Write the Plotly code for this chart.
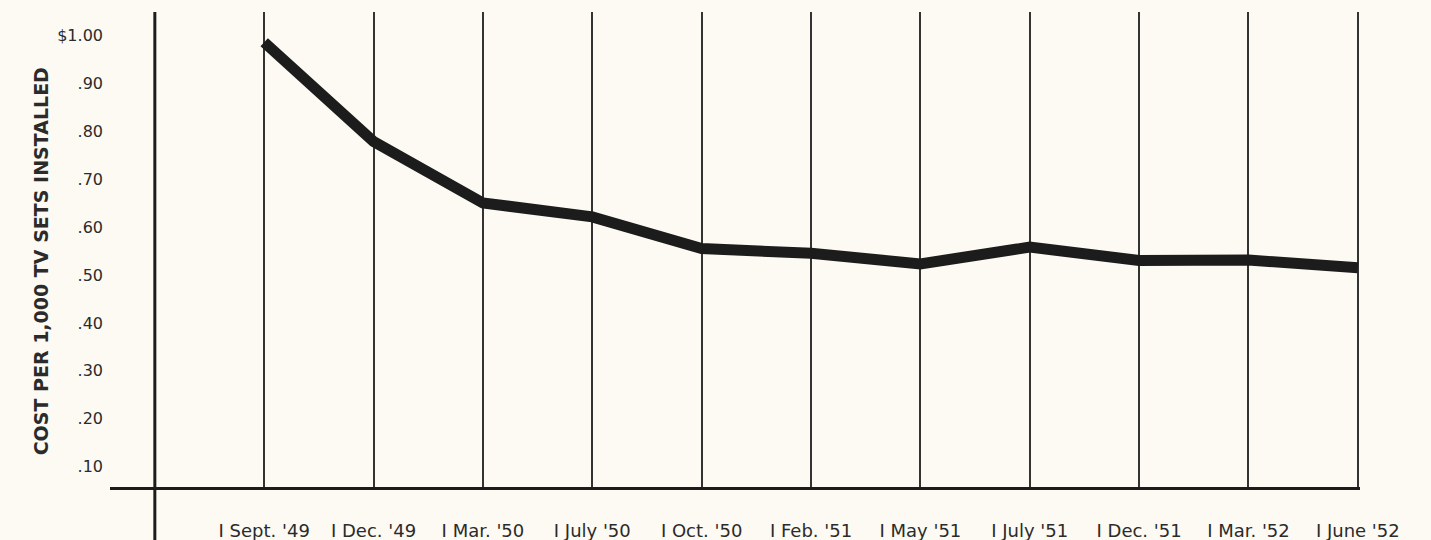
import plotly.graph_objects as go

COLORS = {
    'bg': '#fcfaf2',
    'ink': '#1c1c1c',
    'grid': '#333333',
    'text': '#2b2b2b',
}

# data
months = ["I Sept. '49", "I Dec. '49", "I Mar. '50", "I July '50", "I Oct. '50",
          "I Feb. '51", "I May '51", "I July '51", "I Dec. '51", "I Mar. '52",
          "I June '52"]
cost = [0.985, 0.778, 0.650, 0.621, 0.555, 0.545, 0.523, 0.558, 0.530, 0.531, 0.515]

y_ticks = [0.1, 0.2, 0.3, 0.4, 0.5, 0.6, 0.7, 0.8, 0.9, 1.0]
y_labels = ['.10', '.20', '.30', '.40', '.50', '.60', '.70', '.80', '.90', '$1.00']

FONT = '"DejaVu Sans", sans-serif'
xs = list(range(len(months)))

fig = go.Figure()
fig.add_trace(go.Scatter(
    x=xs, y=cost, mode='lines',
    line=dict(color=COLORS['ink'], width=11),
    hoverinfo='skip', showlegend=False,
))

# heavy left vertical axis, running below the base line
fig.add_shape(type='line', xref='x', yref='paper', x0=-1, x1=-1, y0=1.0, y1=-0.115,
              line=dict(color=COLORS['ink'], width=3))

fig.add_annotation(
    x=-0.066, xref='paper', y=0.474, yref='paper',
    text='<b>COST PER 1,000 TV SETS INSTALLED</b>',
    textangle=-90, showarrow=False,
    font=dict(size=19, color=COLORS['text'], family=FONT),
)

fig.update_layout(
    width=1431, height=540,
    paper_bgcolor=COLORS['bg'], plot_bgcolor=COLORS['bg'],
    font=dict(family=FONT, color=COLORS['text']),
    margin=dict(t=12, b=53, l=110, r=71, autoexpand=False),
    showlegend=False,
    xaxis=dict(
        range=[-1.41, 10.02], tickmode='array',
        tickvals=[-1] + xs, ticktext=[''] + months,
        tickfont=dict(size=18, color=COLORS['text'], family=FONT),
        ticks='', ticklabelstandoff=26, automargin=False,
        showgrid=True, gridcolor=COLORS['grid'], gridwidth=1.5,
        showline=True, linecolor=COLORS['ink'], linewidth=2.5,
        zeroline=False, fixedrange=True,
    ),
    yaxis=dict(
        range=[0.058, 1.048], tickmode='array', tickvals=y_ticks, ticktext=y_labels,
        showgrid=False, zeroline=False, showline=False, ticks='',
        tickfont=dict(size=16, color=COLORS['text'], family=FONT),
        ticklabelstandoff=6, fixedrange=True, automargin=False,
    ),
)

fig.write_html("out.html", config={'displayModeBar': False},
               post_script="document.body.style.margin='0';")
